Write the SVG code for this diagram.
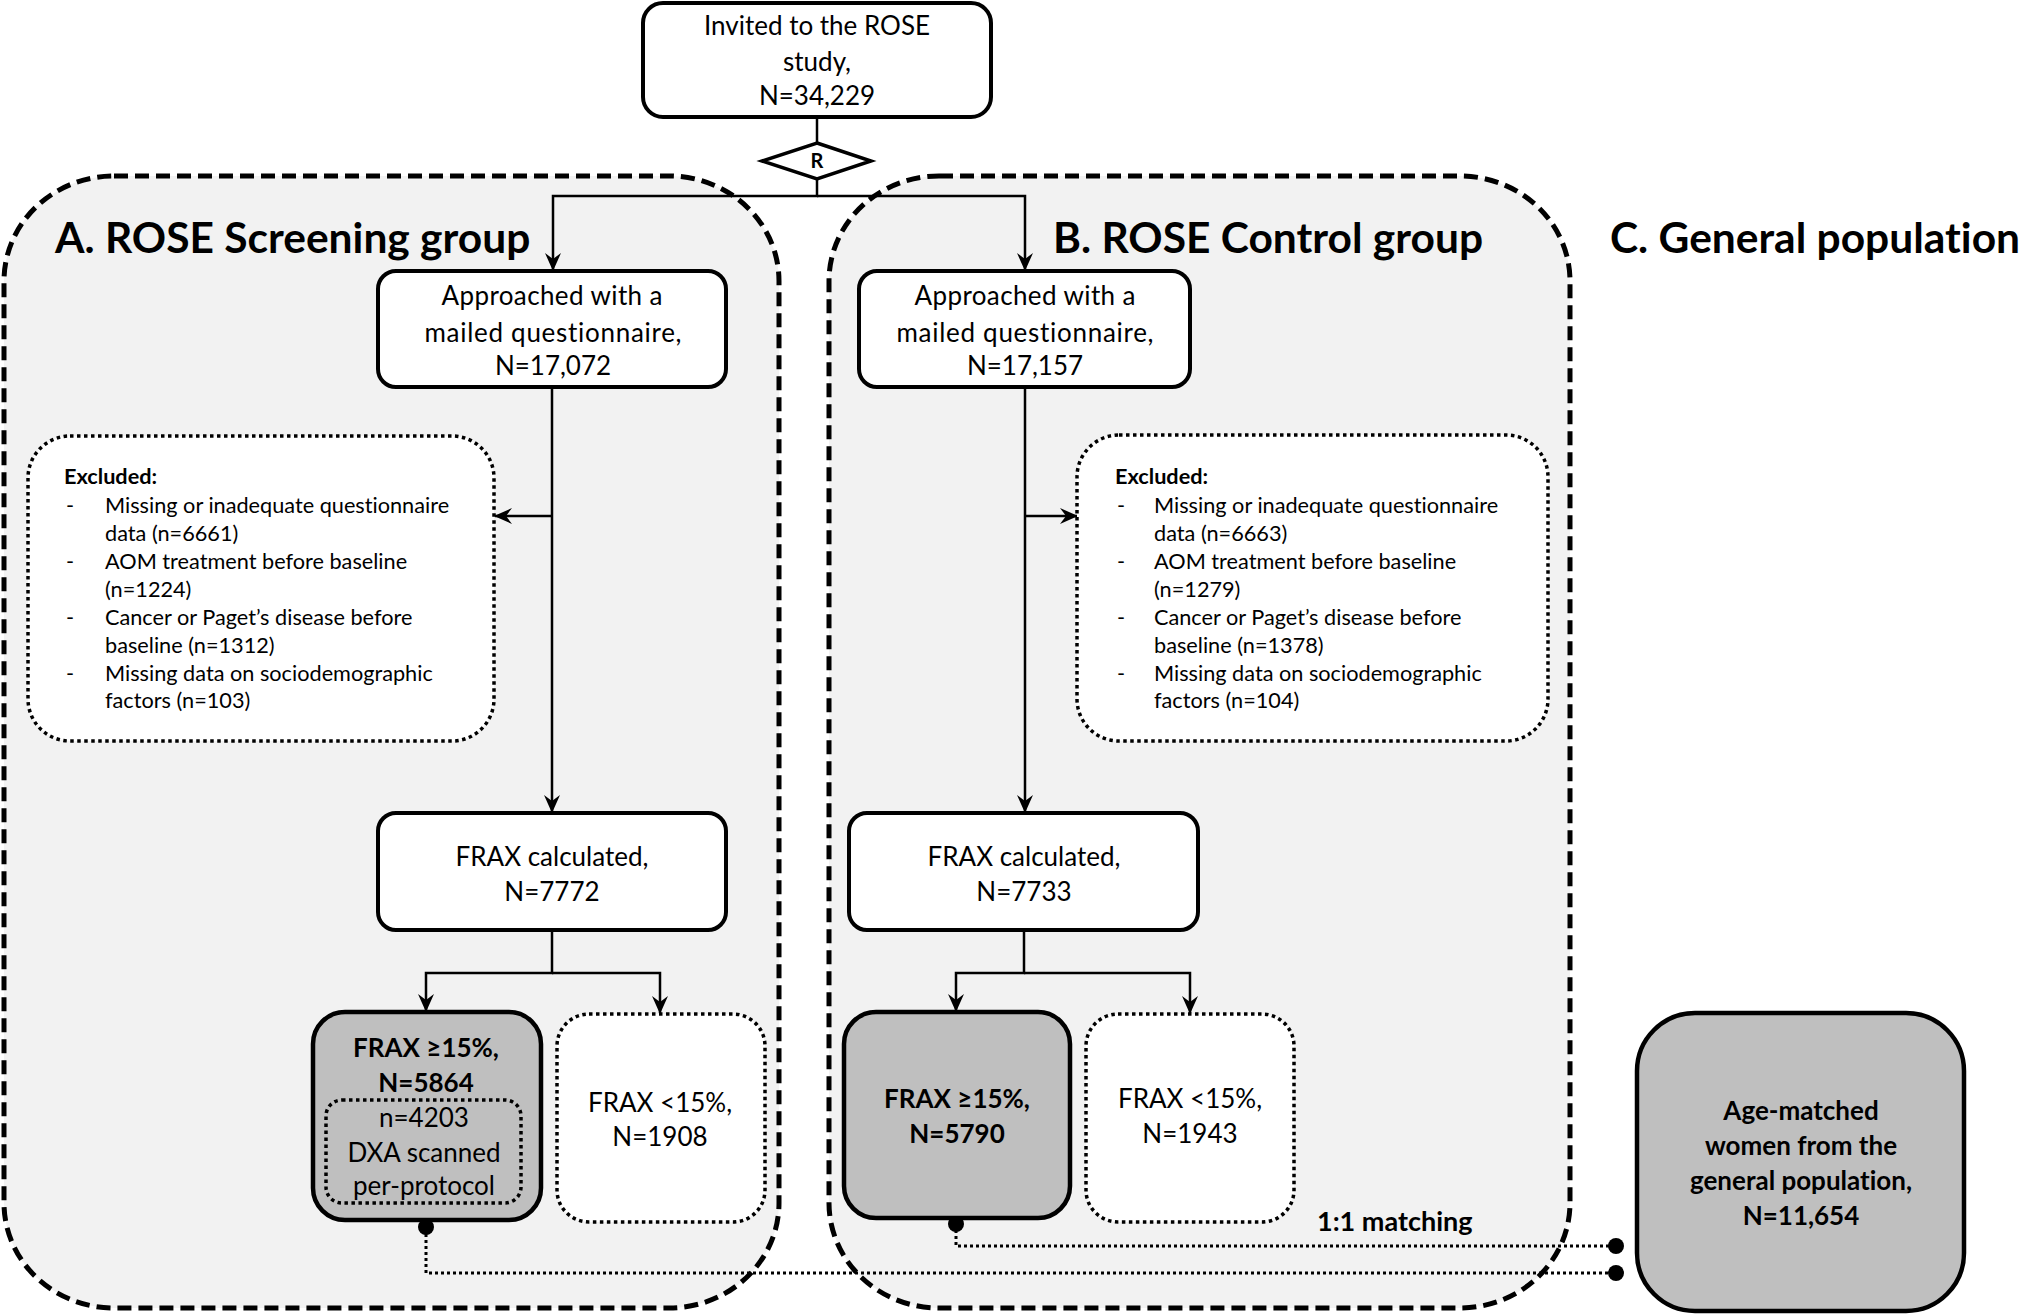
<svg xmlns="http://www.w3.org/2000/svg" width="2030" height="1316" viewBox="0 0 2030 1316">
<defs>
<style>
text{font-family:Lato,"Liberation Sans",sans-serif;fill:#000;font-variant-ligatures:none}
.t{font-size:26px;text-anchor:middle}
.tb{font-size:26px;text-anchor:middle;font-weight:bold}
.ex{font-size:21.7px}
.exb{font-size:21.7px;font-weight:bold}
.title{font-size:42.5px;font-weight:bold}
.panel{fill:#f2f2f2;stroke:#000;stroke-width:5;stroke-dasharray:14 7}
.box{fill:#fff;stroke:#000;stroke-width:4}
.gbox{fill:#bfbfbf;stroke:#000;stroke-width:4.5}
.dbox{fill:#fff;stroke:#000;stroke-width:3.5;stroke-dasharray:3.5 3.5}
.ibox{fill:none;stroke:#000;stroke-width:3.5;stroke-dasharray:3.5 3.5}
.ln{fill:none;stroke:#000;stroke-width:2.5}
.dl{fill:none;stroke:#000;stroke-width:3;stroke-dasharray:3 3}
</style>
<marker id="arr" viewBox="0 0 18 16" refX="17" refY="8" markerWidth="18" markerHeight="16" orient="auto" markerUnits="userSpaceOnUse">
<path d="M0,0 L18,8 L0,16 L6,8 Z" fill="#000"/>
</marker>
</defs>

<g id="panelA">
<rect class="panel" x="4" y="176" width="775" height="1132" rx="110" ry="105"/>
<text class="title" x="55" y="253">A. ROSE Screening group</text>
</g>
<g id="panelB">
<rect class="panel" x="829" y="176" width="741" height="1132" rx="110" ry="105"/>
<text class="title" x="1053" y="253">B. ROSE Control group</text>
</g>
<g id="panelC">
<text class="title" x="1610" y="253">C. General population</text>
</g>

<g id="connectors">
<path class="ln" d="M817,118 V143"/>
<path class="ln" d="M817,180 V196 H553 V270" marker-end="url(#arr)"/>
<path class="ln" d="M817,196 H1025 V270" marker-end="url(#arr)"/>
<path class="ln" d="M552,387 V812" marker-end="url(#arr)"/>
<path class="ln" d="M552,516 H495" marker-end="url(#arr)"/>
<path class="ln" d="M1025,388 V812" marker-end="url(#arr)"/>
<path class="ln" d="M1025,516 H1077" marker-end="url(#arr)"/>
<path class="ln" d="M552,930 V973 H426 V1011" marker-end="url(#arr)"/>
<path class="ln" d="M552,973 H660 V1013" marker-end="url(#arr)"/>
<path class="ln" d="M1024,930 V973 H956 V1011" marker-end="url(#arr)"/>
<path class="ln" d="M1024,973 H1190 V1013" marker-end="url(#arr)"/>
<path class="dl" d="M426,1228 V1273 H1616"/>
<path class="dl" d="M956,1224 V1246 H1616"/>
<circle cx="426" cy="1227" r="8" fill="#000"/>
<circle cx="956" cy="1224" r="8" fill="#000"/>
<circle cx="1616" cy="1246" r="8" fill="#000"/>
<circle cx="1616" cy="1273" r="8" fill="#000"/>
<text x="1317" y="1231" style="font-size:27px;font-weight:bold">1:1 matching</text>
</g>

<g id="invited">
<rect class="box" x="643" y="3" width="348" height="114" rx="20"/>
<text class="t" x="817" y="35">Invited to the ROSE</text>
<text class="t" x="817" y="71">study,</text>
<text class="t" x="817" y="105">N=34,229</text>
</g>

<g id="randomisation">
<polygon points="817,143 871,161 817,179 762,161" fill="#fff" stroke="#000" stroke-width="3.5"/>
<text x="817" y="168" style="font-size:20px;text-anchor:middle;font-weight:bold">R</text>
</g>

<g id="A1">
<rect class="box" x="378" y="271" width="348" height="116" rx="18"/>
<text class="t" x="552" y="305" textLength="221">Approached with a</text>
<text class="t" x="553" y="342" textLength="257">mailed questionnaire,</text>
<text class="t" x="553" y="375">N=17,072</text>
</g>
<g id="B1">
<rect class="box" x="859" y="271" width="331" height="116" rx="18"/>
<text class="t" x="1025" y="305" textLength="221">Approached with a</text>
<text class="t" x="1025" y="342" textLength="257">mailed questionnaire,</text>
<text class="t" x="1025" y="375">N=17,157</text>
</g>

<g id="excludedA">
<rect class="dbox" x="28" y="436" width="466" height="305" rx="42"/>
<text class="exb" x="64" y="484">Excluded:</text>
<text class="ex" x="66" y="513">-</text><text class="ex" x="105" y="513">Missing or inadequate questionnaire</text>
<text class="ex" x="105" y="541">data (n=6661)</text>
<text class="ex" x="66" y="569">-</text><text class="ex" x="105" y="569">AOM treatment before baseline</text>
<text class="ex" x="105" y="597">(n=1224)</text>
<text class="ex" x="66" y="625">-</text><text class="ex" x="105" y="625">Cancer or Paget’s disease before</text>
<text class="ex" x="105" y="653">baseline (n=1312)</text>
<text class="ex" x="66" y="681">-</text><text class="ex" x="105" y="681">Missing data on sociodemographic</text>
<text class="ex" x="105" y="708">factors (n=103)</text>
</g>
<g id="excludedB">
<rect class="dbox" x="1077" y="435" width="471" height="306" rx="42"/>
<text class="exb" x="1115" y="484">Excluded:</text>
<text class="ex" x="1117" y="513">-</text><text class="ex" x="1154" y="513">Missing or inadequate questionnaire</text>
<text class="ex" x="1154" y="541">data (n=6663)</text>
<text class="ex" x="1117" y="569">-</text><text class="ex" x="1154" y="569">AOM treatment before baseline</text>
<text class="ex" x="1154" y="597">(n=1279)</text>
<text class="ex" x="1117" y="625">-</text><text class="ex" x="1154" y="625">Cancer or Paget’s disease before</text>
<text class="ex" x="1154" y="653">baseline (n=1378)</text>
<text class="ex" x="1117" y="681">-</text><text class="ex" x="1154" y="681">Missing data on sociodemographic</text>
<text class="ex" x="1154" y="708">factors (n=104)</text>
</g>

<g id="A2">
<rect class="box" x="378" y="813" width="348" height="117" rx="18"/>
<text class="t" x="552" y="866">FRAX calculated,</text>
<text class="t" x="552" y="901">N=7772</text>
</g>
<g id="B2">
<rect class="box" x="849" y="813" width="349" height="117" rx="18"/>
<text class="t" x="1024" y="866">FRAX calculated,</text>
<text class="t" x="1024" y="901">N=7733</text>
</g>

<g id="A3">
<rect class="gbox" x="313" y="1012" width="228" height="208" rx="32"/>
<text class="tb" x="426" y="1057">FRAX ≥15%,</text>
<text class="tb" x="426" y="1092">N=5864</text>
<rect class="ibox" x="326" y="1100" width="195" height="103" rx="16"/>
<text class="t" x="424" y="1127">n=4203</text>
<text class="t" x="424" y="1162">DXA scanned</text>
<text class="t" x="424" y="1195">per-protocol</text>
</g>
<g id="A4">
<rect class="dbox" x="557" y="1014" width="208" height="208" rx="32"/>
<text class="t" x="660" y="1112">FRAX &lt;15%,</text>
<text class="t" x="660" y="1146">N=1908</text>
</g>
<g id="B3">
<rect class="gbox" x="844" y="1012" width="226" height="206" rx="32"/>
<text class="tb" x="957" y="1108">FRAX ≥15%,</text>
<text class="tb" x="957" y="1143">N=5790</text>
</g>
<g id="B4">
<rect class="dbox" x="1086" y="1014" width="208" height="208" rx="32"/>
<text class="t" x="1190" y="1108">FRAX &lt;15%,</text>
<text class="t" x="1190" y="1143">N=1943</text>
</g>
<g id="C1">
<rect class="gbox" x="1637" y="1013" width="327" height="298" rx="58"/>
<text class="tb" x="1801" y="1120">Age-matched</text>
<text class="tb" x="1801" y="1155">women from the</text>
<text class="tb" x="1801" y="1190">general population,</text>
<text class="tb" x="1801" y="1225">N=11,654</text>
</g>
</svg>
